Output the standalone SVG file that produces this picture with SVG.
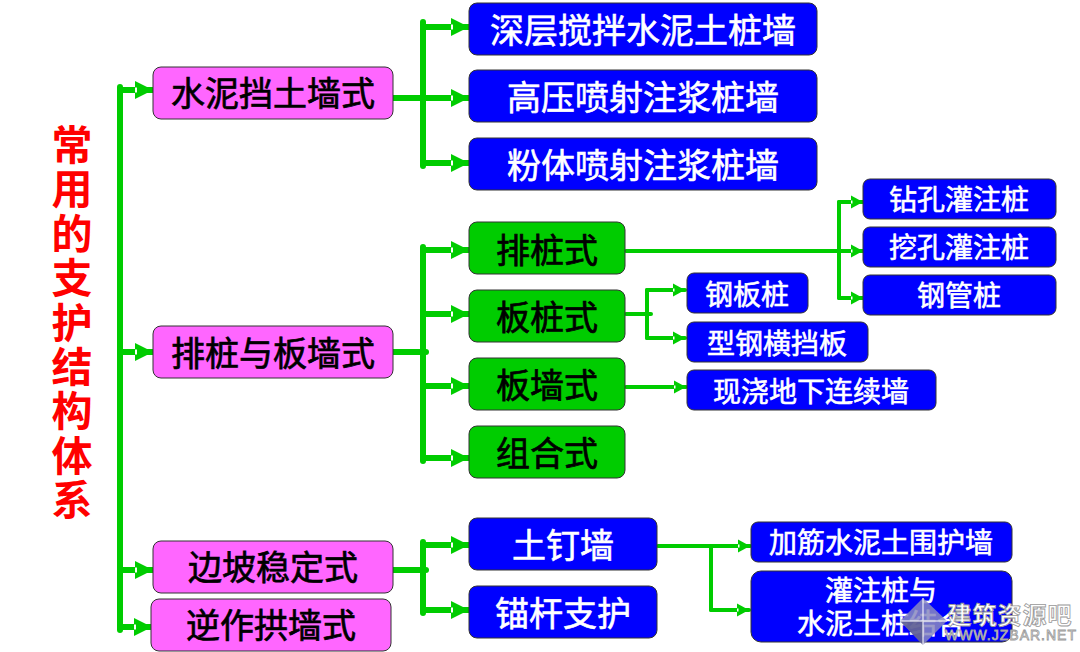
<svg xmlns="http://www.w3.org/2000/svg" width="1080" height="652" viewBox="0 0 1080 652">
<style>
text{font-family:"Noto Sans CJK SC","Liberation Sans",sans-serif;text-anchor:middle}
.box{stroke:#333;stroke-width:1}
.m{fill:#ff66ff}.b{fill:#0000ff}.g{fill:#00cc00}
.tk{fill:#000;stroke:#000;stroke-width:.7}.tw{fill:#fff;stroke:#fff;stroke-width:.6}
.t34{font-size:34px}.t28{font-size:28px}
.title{fill:#ff0000;font-size:41px;font-weight:700;writing-mode:vertical-rl;text-anchor:start;letter-spacing:3.4px}
.c{fill:none;stroke:#00cc00;stroke-linecap:round}
.w5{stroke-width:6}.w4{stroke-width:4}
.wm{fill:#fff;stroke:#999;stroke-width:.8}
</style>
<defs>
<marker id="a" markerUnits="userSpaceOnUse" markerWidth="20" markerHeight="20" refX="19" refY="10" orient="auto"><path d="M1 1L19 10L1 19Z" fill="#00cc00"/><rect x="1" y="7.5" width="2" height="5" fill="#fff"/></marker>
<marker id="s" markerUnits="userSpaceOnUse" markerWidth="14" markerHeight="16" refX="13" refY="8" orient="auto"><path d="M1 1.5L13 8L1 14.5Z" fill="#00cc00"/><rect x="1" y="6.5" width="1.5" height="3" fill="#fff"/></marker>
</defs>
<rect width="1080" height="652" fill="#fff"/>
<g id="connectors">
<path class="c w5" d="M120 87V630"/>
<path class="c w5" marker-end="url(#a)" d="M120 90H153"/>
<path class="c w5" marker-end="url(#a)" d="M120 352H153"/>
<path class="c w5" marker-end="url(#a)" d="M120 570H153"/>
<path class="c w5" marker-end="url(#a)" d="M120 627H152"/>
<path class="c w5" d="M423 22V166"/>
<path class="c w5" marker-end="url(#a)" d="M423 27H469"/>
<path class="c w5" marker-end="url(#a)" d="M393 98H469"/>
<path class="c w5" marker-end="url(#a)" d="M423 163H469"/>
<path class="c w5" d="M423 247V461"/>
<path class="c w5" d="M392 352H426"/>
<path class="c w5" marker-end="url(#a)" d="M423 250H469"/>
<path class="c w5" marker-end="url(#a)" d="M423 314H469"/>
<path class="c w5" marker-end="url(#a)" d="M423 386H469"/>
<path class="c w5" marker-end="url(#a)" d="M423 458H469"/>
<path class="c w5" d="M423 542V613"/>
<path class="c w5" d="M391 570H426"/>
<path class="c w5" marker-end="url(#a)" d="M423 545H469"/>
<path class="c w5" marker-end="url(#a)" d="M423 610H469"/>
<path class="c w4" d="M626 251H839"/>
<path class="c w4" d="M839 202V298"/>
<path class="c w4" marker-end="url(#s)" d="M839 202H863"/>
<path class="c w4" marker-end="url(#s)" d="M839 251H863"/>
<path class="c w4" marker-end="url(#s)" d="M839 298H863"/>
<path class="c w4" d="M626 314H651"/>
<path class="c w4" d="M647 290V338"/>
<path class="c w4" marker-end="url(#s)" d="M647 290H685"/>
<path class="c w4" marker-end="url(#s)" d="M647 338H685"/>
<path class="c w4" marker-end="url(#s)" d="M626 387H686"/>
<path class="c w4" d="M658 546H711"/>
<path class="c w4" d="M711 546V610"/>
<path class="c w4" marker-end="url(#s)" d="M711 546H750"/>
<path class="c w4" marker-end="url(#s)" d="M711 610H749"/>
</g>
<g id="title"><text class="title" x="72" y="124">常用的支护结构体系</text></g>
<g id="n1"><rect class="box m" x="153" y="67" width="240" height="52" rx="8"/><text class="tk t34" x="273" y="106">水泥挡土墙式</text></g>
<g id="n2"><rect class="box m" x="153" y="326" width="240" height="52" rx="8"/><text class="tk t34" x="273" y="366">排桩与板墙式</text></g>
<g id="n3"><rect class="box m" x="153" y="541" width="240" height="52" rx="8"/><text class="tk t34" x="273" y="580">边坡稳定式</text></g>
<g id="n4"><rect class="box m" x="151" y="599" width="240" height="52" rx="8"/><text class="tk t34" x="271" y="638">逆作拱墙式</text></g>
<g id="n5"><rect class="box b" x="469" y="3" width="348" height="52" rx="8"/><text class="tw t34" x="643" y="43">深层搅拌水泥土桩墙</text></g>
<g id="n6"><rect class="box b" x="469" y="70" width="348" height="52" rx="8"/><text class="tw t34" x="643" y="110">高压喷射注浆桩墙</text></g>
<g id="n7"><rect class="box b" x="469" y="138" width="348" height="52" rx="8"/><text class="tw t34" x="643" y="178">粉体喷射注浆桩墙</text></g>
<g id="n8"><rect class="box g" x="469" y="222" width="156" height="52" rx="8"/><text class="tk t34" x="547" y="263">排桩式</text></g>
<g id="n9"><rect class="box g" x="469" y="290" width="156" height="52" rx="8"/><text class="tk t34" x="547" y="330">板桩式</text></g>
<g id="n10"><rect class="box g" x="469" y="358" width="156" height="52" rx="8"/><text class="tk t34" x="547" y="398">板墙式</text></g>
<g id="n11"><rect class="box g" x="469" y="426" width="156" height="52" rx="8"/><text class="tk t34" x="547" y="466">组合式</text></g>
<g id="n12"><rect class="box b" x="863" y="179" width="193" height="40" rx="7"/><text class="tw t28" x="959" y="210">钻孔灌注桩</text></g>
<g id="n13"><rect class="box b" x="863" y="227" width="193" height="40" rx="7"/><text class="tw t28" x="959" y="258">挖孔灌注桩</text></g>
<g id="n14"><rect class="box b" x="863" y="275" width="193" height="40" rx="7"/><text class="tw t28" x="959" y="306">钢管桩</text></g>
<g id="n15"><rect class="box b" x="687" y="273" width="121" height="40" rx="7"/><text class="tw t28" x="747" y="305">钢板桩</text></g>
<g id="n16"><rect class="box b" x="687" y="322" width="181" height="40" rx="7"/><text class="tw t28" x="777" y="354">型钢横挡板</text></g>
<g id="n17"><rect class="box b" x="687" y="370" width="249" height="40" rx="7"/><text class="tw t28" x="811" y="402">现浇地下连续墙</text></g>
<g id="n18"><rect class="box b" x="469" y="518" width="188" height="52" rx="8"/><text class="tw t34" x="563" y="558">土钉墙</text></g>
<g id="n19"><rect class="box b" x="469" y="586" width="188" height="52" rx="8"/><text class="tw t34" x="563" y="626">锚杆支护</text></g>
<g id="n20"><rect class="box b" x="751" y="522" width="261" height="40" rx="7"/><text class="tw t28" x="881" y="553">加筋水泥土围护墙</text></g>
<g id="n21"><rect class="box b" x="751" y="571" width="261" height="71" rx="10"/><text class="tw t28"><tspan x="881" y="601">灌注桩与</tspan><tspan x="881" y="634">水泥土桩结合</tspan></text></g>
<g id="watermark">
<path d="M923 598L947 621L923 645L900 621Z" fill="#8a8ac0" fill-opacity=".85"/>
<path d="M900 621L923 621L923 645Z" fill="#555588" fill-opacity=".7"/>
<path d="M923 598V645M900 621H947" stroke="#fff" stroke-width="1.5" fill="none" opacity=".7"/>
<text class="wm" x="1010" y="624" style="font-size:24px;letter-spacing:1px;font-weight:700">建筑资源吧</text>
<text class="wm" x="1011" y="640" style="font-family:'Liberation Sans',sans-serif;font-size:14px;letter-spacing:1px">WWW.JZBAR.NET</text>
</g>
</svg>
